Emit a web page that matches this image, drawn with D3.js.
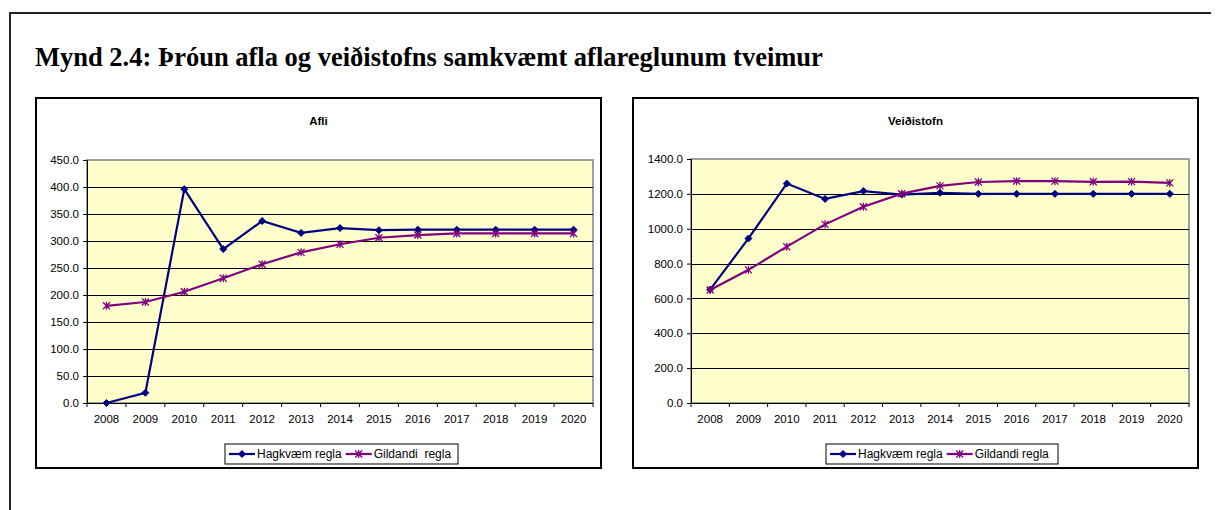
<!DOCTYPE html>
<html lang="is">
	<head>
		<meta charset="utf-8">
		<title>Mynd 2.4</title>
		<script type="text/javascript" src="https://cdn.jsdelivr.net/npm/d3@7"></script>
		<style type="text/css">
			body { margin: 0; background: #fff; }
			text { font-family: "Liberation Sans", Arial, sans-serif; }
			text.heading { font-family: "Liberation Serif", "Times New Roman", serif; }
		</style>
	</head>
	<body>
		<script type="text/javascript">
			//Data
			var years = ["2008", "2009", "2010", "2011", "2012", "2013", "2014", "2015", "2016", "2017", "2018", "2019", "2020"];
			var seriesNames = ["Hagkvæm regla", "Gildandi regla"];

			var afliHagkvaem = [0, 19, 396, 285, 337, 315, 324, 320, 321, 321, 321, 321, 321];
			var afliGildandi = [180, 187, 206, 231, 257, 279, 294, 306, 311, 314, 314, 314, 314];
			var afliTicks = [0, 50, 100, 150, 200, 250, 300, 350, 400, 450];

			var stofnHagkvaem = [651, 944, 1259, 1171, 1216, 1196, 1206, 1200, 1200, 1200, 1200, 1200, 1200];
			var stofnGildandi = [648, 764, 897, 1025, 1126, 1201, 1246, 1268, 1273, 1273, 1269, 1270, 1263];
			var stofnTicks = [0, 200, 400, 600, 800, 1000, 1200, 1400];

			var w = 1216;
			var h = 510;

			var svg = d3.select("body")
						.append("svg")
						.attr("width", w)
						.attr("height", h);

			//Outer frame (top and left edges only are visible)
			svg.append("path")
				.attr("d", "M10,510 L10,13 L1211,13")
				.attr("fill", "none")
				.attr("stroke", "#222")
				.attr("stroke-width", 2);

			svg.append("text")
				.attr("class", "heading")
				.attr("x", 35)
				.attr("y", 66)
				.attr("font-weight", "bold")
				.attr("font-size", "26.5px")
				.attr("fill", "#000")
				.text("Mynd 2.4: Þróun afla og veiðistofns samkvæmt aflareglunum tveimur");

			var colors = ["#000080", "#800080"];

			function drawChart(opt) {
				var g = svg.append("g");

				//Chart box
				g.append("rect")
					.attr("x", opt.box[0])
					.attr("y", opt.box[1])
					.attr("width", opt.box[2] - opt.box[0])
					.attr("height", opt.box[3] - opt.box[1])
					.attr("fill", "#fff")
					.attr("stroke", "#000")
					.attr("stroke-width", 2);

				g.append("text")
					.attr("x", (opt.box[0] + opt.box[2]) / 2)
					.attr("y", 125)
					.attr("text-anchor", "middle")
					.attr("font-weight", "bold")
					.attr("font-size", "11.5px")
					.text(opt.title);

				var xScale = d3.scaleBand()
								.domain(years)
								.range([opt.plot[0], opt.plot[2]]);
				var yScale = d3.scaleLinear()
								.domain([0, opt.max])
								.range([opt.plot[3], opt.plot[1]]);

				//Plot area
				g.append("rect")
					.attr("x", opt.plot[0])
					.attr("y", opt.plot[1])
					.attr("width", opt.plot[2] - opt.plot[0])
					.attr("height", opt.plot[3] - opt.plot[1])
					.attr("fill", "#FFFFCC")
					.attr("stroke", "#808080")
					.attr("stroke-width", 1.5);

				//Gridlines
				g.append("g")
					.selectAll("line")
					.data(opt.ticks.slice(1, -1))
					.enter()
					.append("line")
					.attr("x1", opt.plot[0])
					.attr("x2", opt.plot[2])
					.attr("y1", function(d) { return Math.round(yScale(d)) + 0.5; })
					.attr("y2", function(d) { return Math.round(yScale(d)) + 0.5; })
					.attr("stroke", "#000")
					.attr("stroke-width", 1);

				//Y axis
				var yAxis = d3.axisLeft(yScale)
								.tickValues(opt.ticks)
								.tickSize(4)
								.tickPadding(4)
								.tickFormat(d3.format(".1f"));
				var ya = g.append("g")
					.attr("transform", "translate(" + opt.plot[0] + ",0)")
					.call(yAxis);
				ya.selectAll("text").attr("font-size", "11.5px").attr("font-family", null).attr("fill", "#000");
				ya.select(".domain").attr("stroke", "#000");

				//X axis, ticks between categories
				var xAxis = d3.axisBottom(xScale).tickSize(0).tickPadding(12);
				var xa = g.append("g")
					.attr("transform", "translate(0," + opt.plot[3] + ")")
					.call(xAxis);
				xa.selectAll("text").attr("font-size", "11.5px").attr("font-family", null).attr("fill", "#000");
				xa.select(".domain").attr("stroke", "#000").attr("d", "M" + opt.plot[0] + ",0.5H" + opt.plot[2]);
				xa.selectAll("line.sep")
					.data(years.concat(["end"]))
					.enter()
					.append("line")
					.attr("class", "sep")
					.attr("x1", function(d, i) { return xScale.range()[0] + i * xScale.step(); })
					.attr("x2", function(d, i) { return xScale.range()[0] + i * xScale.step(); })
					.attr("y1", 0)
					.attr("y2", 4)
					.attr("stroke", "#000");

				//Lines
				var line = d3.line()
								.x(function(d, i) { return xScale(years[i]) + xScale.bandwidth() / 2; })
								.y(function(d) { return yScale(d); });

				opt.series.forEach(function(values, s) {
					g.append("path")
						.datum(values)
						.attr("d", line)
						.attr("fill", "none")
						.attr("stroke", colors[s])
						.attr("stroke-width", 2.2);
					g.append("g")
						.selectAll("path")
						.data(values)
						.enter()
						.append("path")
						.attr("transform", function(d, i) {
							return "translate(" + (xScale(years[i]) + xScale.bandwidth() / 2) + "," + yScale(d) + ")";
						})
						.attr("d", s === 0 ? diamond : asterisk)
						.attr("fill", s === 0 ? colors[s] : "none")
						.attr("stroke", colors[s])
						.attr("stroke-width", s === 0 ? 1 : 1.3);
				});

				//Legend
				var lg = g.append("g");
				lg.append("rect")
					.attr("x", opt.legend[0])
					.attr("y", 444)
					.attr("width", opt.legend[1] - opt.legend[0])
					.attr("height", 20)
					.attr("fill", "#fff")
					.attr("stroke", "#000")
					.attr("stroke-width", 1);
				var lx = opt.legend[0] + 4;
				opt.legendNames.forEach(function(name, s) {
					lg.append("line")
						.attr("x1", lx).attr("x2", lx + 26)
						.attr("y1", 454).attr("y2", 454)
						.attr("stroke", colors[s])
						.attr("stroke-width", 2.2);
					lg.append("path")
						.attr("transform", "translate(" + (lx + 13) + ",454)")
						.attr("d", s === 0 ? diamond : asterisk)
						.attr("fill", s === 0 ? colors[s] : "none")
						.attr("stroke", colors[s])
						.attr("stroke-width", s === 0 ? 1 : 1.3);
					var t = lg.append("text")
						.attr("x", lx + 28)
						.attr("y", 458)
						.attr("font-size", "12px")
						.attr("xml:space", "preserve")
						.style("white-space", "pre")
						.text(name);
					lx += 28 + t.node().getComputedTextLength() + 4;
				});
			}

			var diamond = "M0,-3.5L3.5,0L0,3.5L-3.5,0Z";
			var asterisk = "M-3.5,-3.5L3.5,3.5M-3.5,3.5L3.5,-3.5M0,-4L0,4";

			drawChart({
				title: "Afli",
				box: [36, 98, 601, 468],
				plot: [87, 160, 593, 403],
				max: 450,
				ticks: afliTicks,
				series: [afliHagkvaem, afliGildandi],
				legend: [225, 458],
				legendNames: ["Hagkvæm regla", "Gildandi  regla"]
			});

			drawChart({
				title: "Veiðistofn",
				box: [633, 98, 1198, 468],
				plot: [691, 159, 1189, 403],
				max: 1400,
				ticks: stofnTicks,
				series: [stofnHagkvaem, stofnGildandi],
				legend: [826, 1058],
				legendNames: seriesNames
			});
		</script>
	</body>
</html>
